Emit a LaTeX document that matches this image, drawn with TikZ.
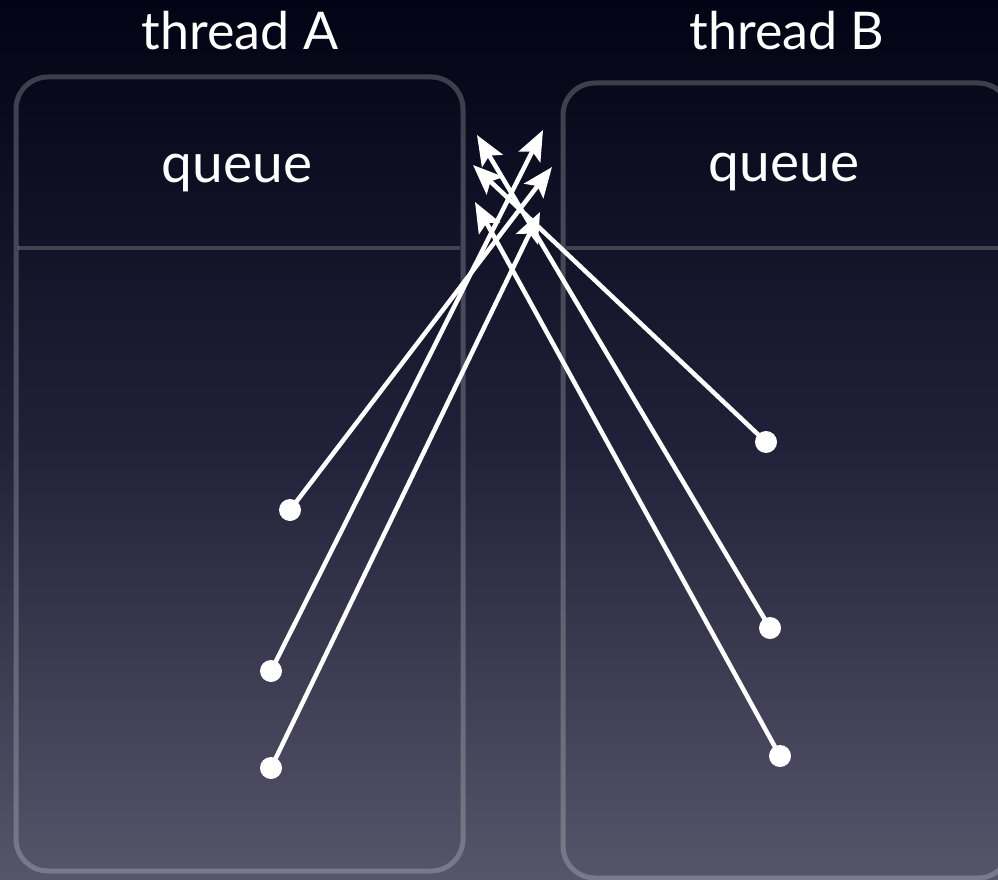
\documentclass[tikz,border=0pt]{standalone}
\usepackage{fontspec}
\setmainfont{Lato}
\usetikzlibrary{arrows.meta}

\definecolor{bgtop}{RGB}{2,3,20}
\definecolor{bgmid}{RGB}{32,32,56}
\definecolor{bgbot}{RGB}{86,85,106}

\begin{document}
\begin{tikzpicture}[x=1pt,y=-1pt,
  frame/.style={draw=white,draw opacity=0.22,line width=5pt,rounded corners=32pt},
  divider/.style={draw=white,draw opacity=0.2,line width=4pt},
  title/.style={white,anchor=base,font=\fontsize{52}{54}\selectfont},
  qlabel/.style={white,anchor=base,font=\fontsize{55}{57}\selectfont},
  dot/.style={circle,fill=white,inner sep=0pt,minimum size=22pt},
  link/.style={white,line width=4.5pt,-{Stealth[length=30pt,width=24pt,inset=6pt]}}]

\useasboundingbox (0,0) rectangle (998,880);
\clip (0,0) rectangle (998,880);
\fill[top color=bgtop,bottom color=bgbot,middle color=bgmid] (0,0) rectangle (998,880);

% the two threads
\draw[frame] (16,77) rectangle (463,871);
\draw[frame] (563,83) rectangle (1010,878);
\draw[divider] (18,248) -- (460,248);
\draw[divider] (566,248) -- (998,248);

\node[title] (thA) at (240,50) {thread A};
\node[title] (thB) at (787,50) {thread B};
\node[qlabel] (qA) at (237,182) {queue};
\node[qlabel] (qB) at (784,181) {queue};

% messages
\node[dot] (a1) at (290,510) {};
\node[dot] (a2) at (271,671) {};
\node[dot] (a3) at (271,768) {};
\node[dot] (b1) at (766,442) {};
\node[dot] (b2) at (770,628) {};
\node[dot] (b3) at (780,756) {};

\coordinate (ta1) at (552,167);
\coordinate (ta2) at (543,130);
\coordinate (ta3) at (540,212);
\coordinate (tb1) at (473,165);
\coordinate (tb2) at (477,135);
\coordinate (tb3) at (475,202);

\draw[link] (a1.center) -- (ta1);
\draw[link] (a2.center) -- (ta2);
\draw[link] (a3.center) -- (ta3);
\draw[link] (b1.center) -- (tb1);
\draw[link] (b2.center) -- (tb2);
\draw[link] (b3.center) -- (tb3);

\end{tikzpicture}
\end{document}
